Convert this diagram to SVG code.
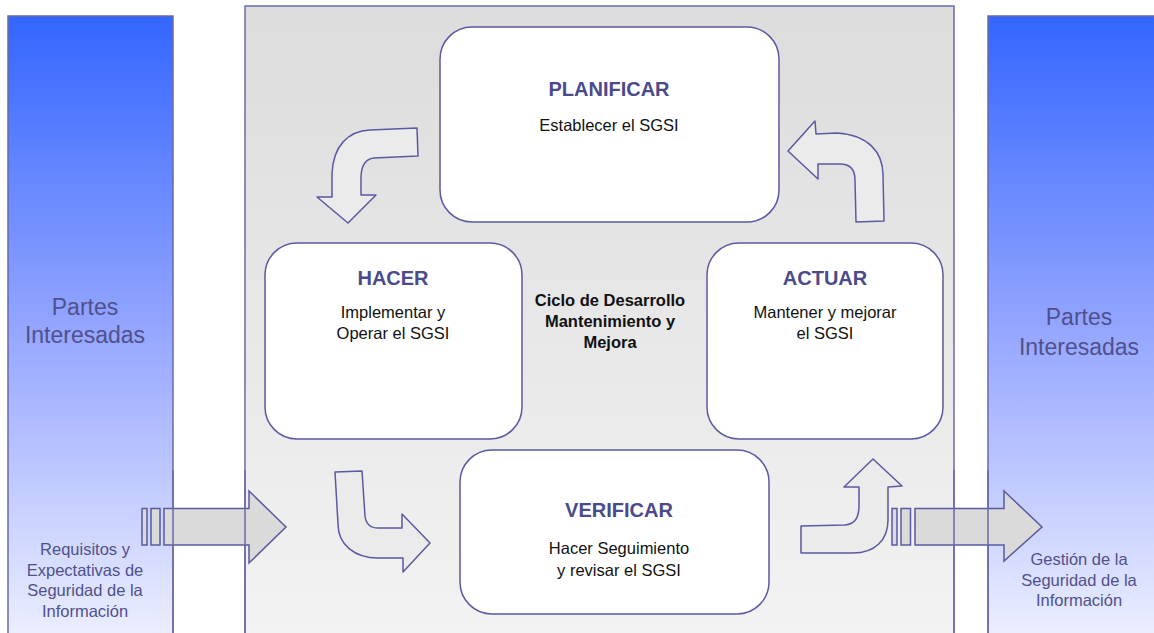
<svg xmlns="http://www.w3.org/2000/svg" width="1154" height="633" viewBox="0 0 1154 633">
<defs>
<linearGradient id="blueG" x1="0" y1="0" x2="0" y2="1">
<stop offset="0" stop-color="#3366ff"/>
<stop offset="0.5" stop-color="#95a6ff"/>
<stop offset="1" stop-color="#eff1ff"/>
</linearGradient>
<linearGradient id="grayG" x1="0" y1="0" x2="0" y2="1">
<stop offset="0" stop-color="#dcdcdc"/>
<stop offset="1" stop-color="#f3f3f3"/>
</linearGradient>
<style>
.panel{stroke:#6a6aaa;stroke-width:1.5}
.edge{fill:none;stroke:#6a6aaa;stroke-width:1.5}
.box{fill:#ffffff;stroke:#5a5aa2;stroke-width:1.5}
.curv{fill:#ebebeb;stroke:#5a5aa2;stroke-width:1.5;stroke-linejoin:round}
.big{fill:#dadada;stroke:#5a5aa2;stroke-width:1.5}
text{font-family:"Liberation Sans",Arial,sans-serif;text-anchor:middle}
.ttl{font-size:20px;font-weight:bold;fill:#4a4a8c}
.sub{font-size:16.5px;fill:#111111}
.ctr{font-size:16.5px;font-weight:bold;fill:#111111}
.pt{font-size:23px;fill:#50508c}
.lbl{font-size:16.5px;fill:#50508c}
</style>
</defs>
<rect width="1154" height="633" fill="#ffffff"/>
<g id="panel-left">
<rect class="panel" x="8" y="16" width="165" height="630" fill="url(#blueG)"/>
<text class="pt" x="85" y="315">Partes</text>
<text class="pt" x="85" y="343">Interesadas</text>
<text class="lbl" x="85" y="555">Requisitos y</text>
<text class="lbl" x="85" y="576">Expectativas de</text>
<text class="lbl" x="85" y="596">Seguridad de la</text>
<text class="lbl" x="85" y="617">Información</text>
</g>
<g id="panel-center">
<rect class="panel" x="245" y="6" width="709" height="640" fill="url(#grayG)"/>
</g>
<g id="panel-right">
<rect class="panel" x="988" y="16" width="175" height="630" fill="url(#blueG)"/>
<text class="pt" x="1079" y="325">Partes</text>
<text class="pt" x="1079" y="355">Interesadas</text>
<text class="lbl" x="1079" y="565">Gestión de la</text>
<text class="lbl" x="1079" y="586">Seguridad de la</text>
<text class="lbl" x="1079" y="606">Información</text>
</g>
<g id="connectors">
<path class="curv" d="M417,128 L418,156 L374,158 C365,159 361,166 361,178 L361,195 L376,195 L348,223 L317,197 L332,197 L332,174 C333,146 348,131 370,130 Z"/>
<path class="curv" d="M788,151 L815,121 L816,134 L837,133 C868,135 883,152 883,175 L884,221 L856,222 L855,180 C855,170 850,164 840,164 L818,164 L818,179 Z"/>
<path class="curv" d="M335,472 L362,471 L365,516 C366,524 370,528 378,528 L402,528 L402,514 L430,543 L403,572 L403,558 L378,558 C355,558 338,545 338,524 Z"/>
<path class="curv" d="M873,459 L902,486 L888,487 L888,520 C888,540 875,553 853,553 L801,553 L801,526 L845,525 C855,524 859,518 859,505 L859,487 L844,487 Z"/>
<rect class="big" x="142" y="508.5" width="5" height="36.5"/>
<rect class="big" x="151" y="508.5" width="9" height="36.5"/>
<path class="big" d="M164,508.5 L249,508.5 L249,491 L286,527 L249,563 L249,545 L164,545 Z"/>
<rect class="big" x="892" y="508.5" width="5" height="36.5"/>
<rect class="big" x="901" y="508.5" width="9.5" height="36.5"/>
<path class="big" d="M915,508.5 L1004,508.5 L1004,491 L1042,527 L1004,561 L1004,545 L915,545 Z"/>
<line class="edge" x1="173" y1="470" x2="173" y2="633"/>
<line class="edge" x1="245" y1="470" x2="245" y2="633"/>
<line class="edge" x1="954" y1="470" x2="954" y2="633"/>
<line class="edge" x1="988" y1="470" x2="988" y2="633"/>
</g>
<g id="node-planificar">
<rect class="box" x="440" y="27" width="339" height="195" rx="32"/>
<text class="ttl" x="609" y="96">PLANIFICAR</text>
<text class="sub" x="609" y="131">Establecer el SGSI</text>
</g>
<g id="node-hacer">
<rect class="box" x="265" y="243" width="257" height="196" rx="32"/>
<text class="ttl" x="393" y="285">HACER</text>
<text class="sub" x="393" y="318">Implementar y</text>
<text class="sub" x="393" y="339">Operar el SGSI</text>
</g>
<g id="node-actuar">
<rect class="box" x="707" y="243" width="236" height="196" rx="32"/>
<text class="ttl" x="825" y="285">ACTUAR</text>
<text class="sub" x="825" y="318">Mantener y mejorar</text>
<text class="sub" x="825" y="339">el SGSI</text>
</g>
<g id="node-verificar">
<rect class="box" x="460" y="450" width="309" height="164" rx="32"/>
<text class="ttl" x="619" y="517">VERIFICAR</text>
<text class="sub" x="619" y="554">Hacer Seguimiento</text>
<text class="sub" x="619" y="576">y revisar el SGSI</text>
</g>
<g id="node-ciclo">
<text class="ctr" x="610" y="306">Ciclo de Desarrollo</text>
<text class="ctr" x="610" y="327">Mantenimiento y</text>
<text class="ctr" x="610" y="348">Mejora</text>
</g>
</svg>
